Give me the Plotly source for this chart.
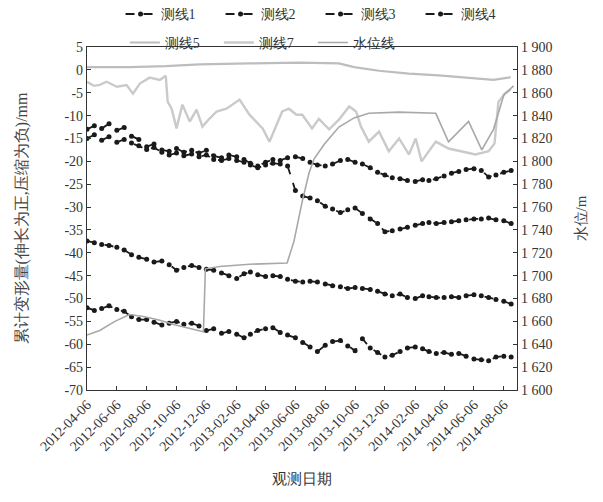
import plotly.graph_objects as go

# ---------------- data ----------------
dates_main = [
    "2012-04-06", "2012-04-21", "2012-05-06", "2012-05-21", "2012-06-06", "2012-06-21",
    "2012-07-06", "2012-07-21", "2012-08-06", "2012-08-21", "2012-09-06", "2012-09-21",
    "2012-10-06", "2012-10-21", "2012-11-06", "2012-11-21", "2012-12-06", "2012-12-21",
    "2013-01-06", "2013-01-21", "2013-02-06", "2013-02-21", "2013-03-06", "2013-03-21",
    "2013-04-06", "2013-04-21", "2013-05-06", "2013-05-21", "2013-06-06", "2013-06-21",
    "2013-07-06", "2013-07-21", "2013-08-06", "2013-08-21", "2013-09-06", "2013-09-21",
    "2013-10-06", "2013-10-21", "2013-11-06", "2013-11-21", "2013-12-06", "2013-12-21",
    "2014-01-06", "2014-01-21", "2014-02-06", "2014-02-21", "2014-03-06", "2014-03-21",
    "2014-04-06", "2014-04-21", "2014-05-06", "2014-05-21", "2014-06-06", "2014-06-21",
    "2014-07-06", "2014-07-21", "2014-08-06", "2014-08-21",
]

line1 = [-13.0, -12.2, -12.8, -11.8, -13.2, -12.6, -14.5, -15.2, -16.8, -16.2, -17.5, -17.8,
         -17.2, -18.0, -17.6, -18.2, -17.6, -18.8, -19.2, -18.6, -19.0, -19.6, -20.4, -21.0,
         -20.2, -19.6, -19.8, -19.2, -19.0, -19.4, -20.2, -20.8, -21.0, -20.6, -19.8, -19.6,
         -20.2, -20.6, -21.4, -22.4, -23.0, -23.6, -23.8, -24.2, -24.4, -24.0, -24.2, -23.8,
         -23.2, -22.6, -22.2, -21.8, -21.6, -22.0, -23.4, -23.0, -22.4, -22.0]

line2 = [-15.0, -14.2, -15.4, -14.6, -15.8, -15.2, -16.0, -16.6, -17.4, -17.0, -18.0, -18.6,
         -18.2, -18.8, -18.4, -19.0, -18.6, -19.6, -19.8, -19.4, -19.8, -20.2, -20.8, -21.4,
         -20.8, -20.4, -20.6, -21.0, -26.4, -27.6, -28.0, -28.6, -29.8, -30.4, -31.2, -30.6,
         -30.2, -31.4, -32.6, -33.6, -35.4, -35.2, -34.8, -34.4, -34.0, -33.6, -33.4, -33.6,
         -33.4, -33.2, -33.0, -32.8, -32.6, -32.6, -32.4, -32.8, -33.0, -33.6]

line3 = [-37.4, -37.8, -38.2, -38.4, -38.8, -39.4, -40.4, -41.0, -41.4, -42.0, -41.8, -42.6,
         -43.8, -43.2, -42.8, -43.2, -43.6, -43.8, -44.4, -45.0, -45.6, -44.6, -44.2, -44.8,
         -45.2, -45.0, -45.2, -45.8, -46.2, -46.4, -46.2, -46.4, -46.8, -47.2, -47.4, -47.8,
         -47.6, -47.8, -48.0, -48.4, -49.0, -49.4, -49.0, -49.8, -50.0, -49.4, -49.6, -49.8,
         -49.8, -49.6, -49.8, -49.4, -49.2, -49.4, -49.8, -50.2, -50.6, -51.2]

line4 = [-52.0, -52.6, -52.2, -51.6, -52.4, -52.8, -54.0, -54.6, -54.6, -55.2, -55.8, -55.4,
         -55.0, -55.6, -55.4, -56.0, -57.0, -56.6, -57.6, -57.2, -57.8, -58.6, -57.8, -57.0,
         -56.6, -56.4, -57.4, -58.0, -58.6, -59.6, -60.6, -61.6, -60.2, -59.4, -59.2, -60.4,
         -61.4, -58.8, -60.8, -61.8, -62.8, -62.4, -61.6, -60.8, -60.6, -61.0, -61.6, -62.0,
         -61.8, -62.2, -62.0, -62.6, -63.2, -63.4, -63.6, -62.8, -62.6, -62.8]

dates5 = ["2012-04-06", "2012-07-02", "2012-09-14", "2012-11-22", "2013-03-04", "2013-06-14",
          "2013-09-03", "2013-10-04", "2013-11-24", "2014-01-24", "2014-03-26", "2014-05-26",
          "2014-07-16", "2014-08-20"]
line5 = [0.6, 0.6, 0.8, 1.2, 1.4, 1.6, 1.4, 0.6, -0.2, -0.8, -1.2, -1.8, -2.2, -1.6]

dates7 = ["2012-04-06", "2012-04-20", "2012-05-02", "2012-05-16", "2012-06-06", "2012-06-26",
          "2012-07-09", "2012-07-23", "2012-08-12", "2012-09-02", "2012-09-14", "2012-09-18",
          "2012-09-26", "2012-10-06", "2012-10-18", "2012-11-02", "2012-11-16", "2012-11-28",
          "2012-12-12", "2012-12-27", "2013-01-16", "2013-02-12", "2013-03-04", "2013-03-31",
          "2013-04-14", "2013-04-28", "2013-05-10", "2013-05-24", "2013-06-08", "2013-06-20",
          "2013-07-10", "2013-07-24", "2013-08-14", "2013-09-03", "2013-09-24", "2013-10-08",
          "2013-10-18", "2013-11-03", "2013-11-24", "2013-12-14", "2014-01-04", "2014-01-24",
          "2014-02-07", "2014-02-19", "2014-03-20", "2014-04-15", "2014-05-12", "2014-06-09",
          "2014-07-06", "2014-07-18", "2014-07-26", "2014-08-08", "2014-08-20"]
line7 = [-2.6, -3.5, -3.3, -2.6, -3.7, -3.3, -5.2, -3.0, -1.7, -2.2, -1.3, -7.0,
         -8.5, -12.8, -7.6, -11.3, -8.7, -12.4, -10.7, -9.1, -8.5, -6.5, -9.8, -12.8,
         -15.7, -12.0, -9.1, -8.5, -9.8, -9.8, -12.8, -10.7, -13.0, -10.9, -8.0, -9.1,
         -12.4, -15.7, -13.5, -17.8, -15.0, -18.5, -15.0, -20.0, -15.7, -17.2, -17.8, -18.5,
         -17.8, -16.1, -7.0, -5.2, -4.3]

dates_w = ["2012-04-06", "2012-05-02", "2012-06-02", "2012-07-02", "2012-08-02", "2012-09-02",
           "2012-10-02", "2012-11-02", "2012-11-30", "2012-12-04", "2013-01-02", "2013-03-04",
           "2013-05-20", "2013-06-03", "2013-06-20", "2013-07-04", "2013-07-14", "2013-08-04",
           "2013-09-03", "2013-10-04", "2013-11-03", "2014-01-04", "2014-03-20", "2014-04-15",
           "2014-05-26", "2014-06-22", "2014-07-16", "2014-08-06", "2014-08-26"]
water = [1648, 1652, 1660, 1666, 1664, 1661, 1657, 1654, 1651, 1706, 1708, 1710,
         1711, 1730, 1765, 1790, 1802, 1815, 1830, 1838, 1842, 1843, 1842, 1817,
         1835, 1810, 1828, 1858, 1866]

x_tickvals = ["2012-04-06", "2012-06-06", "2012-08-06", "2012-10-06", "2012-12-06",
              "2013-02-06", "2013-04-06", "2013-06-06", "2013-08-06", "2013-10-06",
              "2013-12-06", "2014-02-06", "2014-04-06", "2014-06-06", "2014-08-06"]
y_tickvals = [5, 0, -5, -10, -15, -20, -25, -30, -35, -40, -45, -50, -55, -60, -65, -70]
y_ticktext = ["5", "0", "-5", "-10", "-15", "-20", "-25", "-30", "-35", "-40", "-45",
              "-50", "-55", "-60", "-65", "-70"]
y2_tickvals = [1900, 1880, 1860, 1840, 1820, 1800, 1780, 1760, 1740, 1720, 1700,
               1680, 1660, 1640, 1620, 1600]
y2_ticktext = ["1 900", "1 880", "1 860", "1 840", "1 820", "1 800", "1 780", "1 760",
               "1 740", "1 720", "1 700", "1 680", "1 660", "1 640", "1 620", "1 600"]

# ---------------- figure ----------------
FONT = "Liberation Serif"
fig = go.Figure()

black_series = [("测线1", line1), ("测线2", line2), ("测线3", line3), ("测线4", line4)]
for name, vals in black_series:
    fig.add_trace(go.Scatter(
        x=dates_main, y=vals, name=name, mode="lines+markers",
        line=dict(color="#1a1a1a", width=1.8, dash="dash"),
        marker=dict(color="#1a1a1a", size=5, symbol="circle"),
        legend="legend",
    ))

fig.add_trace(go.Scatter(x=dates5, y=line5, name="测线5", mode="lines",
                         line=dict(color="#bdbdbd", width=2.2), legend="legend2"))
fig.add_trace(go.Scatter(x=dates7, y=line7, name="测线7", mode="lines",
                         line=dict(color="#cacaca", width=2.4), legend="legend2"))
fig.add_trace(go.Scatter(x=dates_w, y=water, name="水位线", mode="lines", yaxis="y2",
                         line=dict(color="#a8a8a8", width=1.6), legend="legend2"))

fig.update_layout(
    width=603, height=502,
    margin=dict(l=79, r=94, t=39, b=120, autoexpand=False),
    paper_bgcolor="white", plot_bgcolor="white",
    font=dict(family=FONT, size=12, color="#222"),
    showlegend=True,
    legend=dict(orientation="h", x=0.078, y=1.095, xanchor="left", yanchor="middle",
                entrywidth=55, entrywidthmode="pixels",
                font=dict(family=FONT, size=14, color="#333"), bgcolor="rgba(0,0,0,0)",
                itemwidth=30),
    legend2=dict(orientation="h", x=0.088, y=1.012, xanchor="left", yanchor="middle",
                 entrywidth=49, entrywidthmode="pixels",
                 font=dict(family=FONT, size=14, color="#333"), bgcolor="rgba(0,0,0,0)",
                 itemwidth=30),
    xaxis=dict(
        type="date", range=["2012-04-06", "2014-09-02"],
        tickvals=x_tickvals, ticktext=x_tickvals, tickangle=-45,
        ticks="inside", ticklen=4, tickcolor="#333",
        showline=True, linecolor="#333", linewidth=1.2, mirror=True,
        showgrid=False, zeroline=False,
        tickfont=dict(family=FONT, size=14, color="#333"),
        title=dict(text="观测日期", font=dict(family=FONT, size=15, color="#333"), standoff=20),
    ),
    yaxis=dict(
        range=[-70, 5], tickvals=y_tickvals, ticktext=y_ticktext,
        ticks="inside", ticklen=4, tickcolor="#333",
        showline=True, linecolor="#333", linewidth=1.2,
        showgrid=False, zeroline=False,
        tickfont=dict(family=FONT, size=14, color="#333"),
        title=dict(text="累计变形量(伸长为正,压缩为负)/mm",
                   font=dict(family=FONT, size=16, color="#444"), standoff=32),
    ),
    yaxis2=dict(
        range=[1600, 1900], overlaying="y", side="right",
        tickvals=y2_tickvals, ticktext=y2_ticktext,
        ticks="inside", ticklen=4, tickcolor="#333",
        showline=True, linecolor="#333", linewidth=1.2,
        showgrid=False, zeroline=False,
        tickfont=dict(family=FONT, size=14, color="#333"),
        title=dict(text="水位/m", font=dict(family=FONT, size=15, color="#444"), standoff=24),
    ),
)

fig.write_html("out.html")
